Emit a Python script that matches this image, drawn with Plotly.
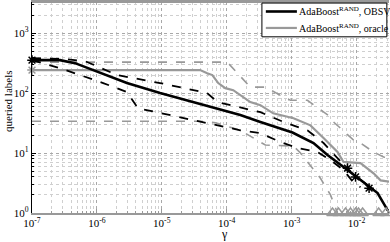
import plotly.graph_objects as go

# ---- data ----
obsv_x = [1e-7, 2.7e-7, 4.6e-7, 2.9e-6, 9.4e-6, 3.05e-5, 1.62e-4, 3.3e-4, 1.03e-3, 2.17e-3,
          3.57e-3, 7.26e-3, 1.28e-2, 2.11e-2, 3.0e-2, 3.35e-2]
obsv_y = [355, 355, 316, 147, 100, 71, 43, 33, 22, 14.7, 9.3, 5.2, 3.2, 2.15, 1.12, 1.0]

obsv_hi_x = [1e-7, 3.2e-7, 6.6e-7, 2.05e-6, 9.4e-6, 5.0e-5, 7.2e-5, 1.62e-4, 3.3e-4, 7.5e-4,
             1.75e-3, 3.1e-3, 5.09e-3, 8.07e-3, 1.28e-2, 1.83e-2]
obsv_hi_y = [383, 369, 341, 200, 147, 100, 71, 58, 48, 33, 24, 14.7, 8.3, 4.8, 3.3, 2.4]

obsv_lo_x = [1e-7, 2.7e-7, 1.25e-6, 2.9e-6, 4.3e-6, 3.9e-5, 1.62e-4, 3.3e-4, 6.7e-4, 1.23e-3,
             2.5e-3, 3.97e-3, 6.3e-3, 9.0e-3, 1.15e-2]
obsv_lo_y = [355, 261, 147, 104, 56, 33, 24, 21.5, 15.3, 12.1, 10.4, 7.6, 5.2, 3.2, 2.7]

oracle_x = [1e-7, 3.9e-5, 5.0e-5, 6.0e-5, 7.4e-5, 9.5e-5, 1.26e-4, 1.62e-4, 2.31e-4, 3.3e-4,
            5.2e-4, 1.07e-3, 1.95e-3, 3.1e-3, 5.09e-3, 6.3e-3, 1.15e-2, 1.83e-2, 2.35e-2, 3.35e-2]
oracle_y = [242, 242, 215, 200, 147, 121, 112, 93, 71, 63, 46, 38, 29, 17.8, 10.4, 7.1, 6.8,
            4.6, 3.5, 3.3]

oracle_hi_x = [1e-7, 1.02e-4, 2.31e-4, 3.94e-4, 7.5e-4, 9.6e-4, 1.75e-3, 3.97e-3, 4.42e-3,
               9.0e-3, 1.15e-2, 1.83e-2, 2.61e-2, 3.35e-2]
oracle_hi_y = [329, 329, 126, 126, 86, 76, 76, 40, 33, 16.5, 14.7, 10.4, 8.6, 8.3]

oracle_lo_x = [1e-7, 3.9e-5, 6.7e-5, 1.62e-4, 3.94e-4, 1.07e-3, 1.37e-3, 2.78e-3, 3.97e-3, 5.09e-3]
oracle_lo_y = [34, 34, 32, 24, 13.6, 13.1, 10, 3.8, 2.0, 1.0]

tri_x = [4.26e-3, 5.27e-3, 6.76e-3, 8.07e-3, 9.66e-3, 1.07e-2, 1.24e-2, 2.19e-2, 2.85e-2]
tri_y = [1, 1, 1, 1, 1, 1, 1, 1, 1]

star_obsv_x = [1e-7, 7.26e-3, 9.66e-3, 1.56e-2]
star_obsv_y = [355, 5.6, 4.0, 2.6]
star_oracle_x = [1e-7]
star_oracle_y = [242]

x_ticks = [1e-7, 1e-6, 1e-5, 1e-4, 1e-3, 1e-2]
x_labels = ["10<sup>-7</sup>", "10<sup>-6</sup>", "10<sup>-5</sup>", "10<sup>-4</sup>",
            "10<sup>-3</sup>", "10<sup>-2</sup>"]
y_ticks = [1, 10, 100, 1000]
y_labels = ["10<sup>0</sup>", "10<sup>1</sup>", "10<sup>2</sup>", "10<sup>3</sup>"]

legend_names = ["AdaBoost<sup>RAND</sup>, OBSV", "AdaBoost<sup>RAND</sup>, oracle"]

x_minor = [m * t for t in x_ticks for m in range(2, 10)]
y_minor = [m * t for t in y_ticks for m in range(2, 10)]

BLACK = "#000000"
GRAY = "#999999"

fig = go.Figure()
fig.add_trace(go.Scatter(x=oracle_hi_x, y=oracle_hi_y, mode="lines",
                         line=dict(color=GRAY, width=1.6, dash="dash"), showlegend=False))
fig.add_trace(go.Scatter(x=oracle_lo_x, y=oracle_lo_y, mode="lines",
                         line=dict(color=GRAY, width=1.6, dash="dash"), showlegend=False))
fig.add_trace(go.Scatter(x=oracle_x, y=oracle_y, mode="lines",
                         line=dict(color=GRAY, width=2.2), name=legend_names[1],
                         showlegend=False))
fig.add_trace(go.Scatter(x=obsv_hi_x, y=obsv_hi_y, mode="lines",
                         line=dict(color=BLACK, width=1.8, dash="dash"), showlegend=False))
fig.add_trace(go.Scatter(x=obsv_lo_x, y=obsv_lo_y, mode="lines",
                         line=dict(color=BLACK, width=1.8, dash="dash"), showlegend=False))
fig.add_trace(go.Scatter(x=obsv_x, y=obsv_y, mode="lines",
                         line=dict(color=BLACK, width=2.6), name=legend_names[0],
                         showlegend=False))
fig.add_trace(go.Scatter(x=tri_x, y=tri_y, mode="markers", cliponaxis=False,
                         marker=dict(symbol="triangle-up-open", size=10, color=GRAY,
                                     line=dict(width=1.5, color=GRAY)),
                         showlegend=False))
fig.add_trace(go.Scatter(x=star_obsv_x, y=star_obsv_y, mode="markers", cliponaxis=False,
                         marker=dict(symbol="asterisk-open", size=8, color=BLACK,
                                     line=dict(width=1.5, color=BLACK)),
                         showlegend=False))
fig.add_trace(go.Scatter(x=star_oracle_x, y=star_oracle_y, mode="markers", cliponaxis=False,
                         marker=dict(symbol="asterisk-open", size=8, color=GRAY,
                                     line=dict(width=1.5, color=GRAY)),
                         showlegend=False))

font = "Liberation Serif, Times New Roman, serif"

fig.update_xaxes(type="log", range=[-7, -1.5], tickmode="array", tickvals=x_ticks,
                 ticktext=x_labels, ticklabelstandoff=-1, automargin=False,
                 ticks="inside", ticklen=4, tickcolor=GRAY,
                 showline=True, linecolor=GRAY, linewidth=2, mirror=True,
                 zeroline=False,
                 showgrid=True, gridcolor="#a8a8a8", griddash="dot", gridwidth=1,
                 minor=dict(tickmode="array", tickvals=x_minor, ticks="inside", ticklen=2,
                            tickcolor=GRAY, showgrid=True,
                            gridcolor="#cfcfcf", griddash="dot", gridwidth=1),
                 tickfont=dict(size=11, family=font, color="#000"))
fig.update_yaxes(type="log", range=[0, 3.52], tickmode="array", tickvals=y_ticks,
                 ticktext=y_labels, automargin=False,
                 ticks="inside", ticklen=4, tickcolor=BLACK,
                 showline=True, linecolor=BLACK, linewidth=1.2, mirror=False,
                 zeroline=False,
                 showgrid=True, gridcolor="#a8a8a8", griddash="dot", gridwidth=1,
                 minor=dict(tickmode="array", tickvals=y_minor, ticks="inside", ticklen=2,
                            tickcolor=BLACK, showgrid=True,
                            gridcolor="#cfcfcf", griddash="dot", gridwidth=1),
                 tickfont=dict(size=11, family=font, color="#000"))

# axis titles
fig.add_annotation(xref="paper", yref="paper", x=0.54, y=-0.1, xanchor="center",
                   yanchor="middle", text="γ", showarrow=False,
                   font=dict(size=12, family=font, color=BLACK))
fig.add_annotation(xref="paper", yref="paper", x=-0.068, y=0.53, xanchor="center",
                   yanchor="middle", text="queried labels", textangle=-90, showarrow=False,
                   font=dict(size=11, family=font, color=BLACK))

# top border
fig.add_shape(type="line", xref="paper", yref="paper", x0=0, x1=1, y0=1, y1=1,
              line=dict(color=GRAY, width=2))

# manual legend box (paper coords)
fig.add_shape(type="rect", xref="paper", yref="paper", x0=0.644, x1=0.994, y0=0.835, y1=0.995,
              line=dict(color=BLACK, width=1), fillcolor="white", layer="above")
fig.add_shape(type="line", xref="paper", yref="paper", x0=0.655, x1=0.742, y0=0.955, y1=0.955,
              line=dict(color=BLACK, width=2.6), layer="above")
fig.add_shape(type="line", xref="paper", yref="paper", x0=0.655, x1=0.742, y0=0.877, y1=0.877,
              line=dict(color=GRAY, width=2.2), layer="above")
fig.add_annotation(xref="paper", yref="paper", x=0.746, y=0.955, xanchor="left",
                   yanchor="middle", text=legend_names[0], showarrow=False, borderpad=0,
                   font=dict(size=10, family=font, color=BLACK))
fig.add_annotation(xref="paper", yref="paper", x=0.746, y=0.877, xanchor="left",
                   yanchor="middle", text=legend_names[1], showarrow=False, borderpad=0,
                   font=dict(size=10, family=font, color=BLACK))

fig.update_layout(
    width=390, height=242,
    margin=dict(l=32, r=1, t=2, b=29),
    paper_bgcolor="white", plot_bgcolor="white",
    font=dict(family=font, size=11, color="#000"),
    showlegend=False,
)

fig.write_html("out.html", config={"displayModeBar": False},
               post_script="document.body.style.margin='0';document.body.style.overflow='hidden';")
